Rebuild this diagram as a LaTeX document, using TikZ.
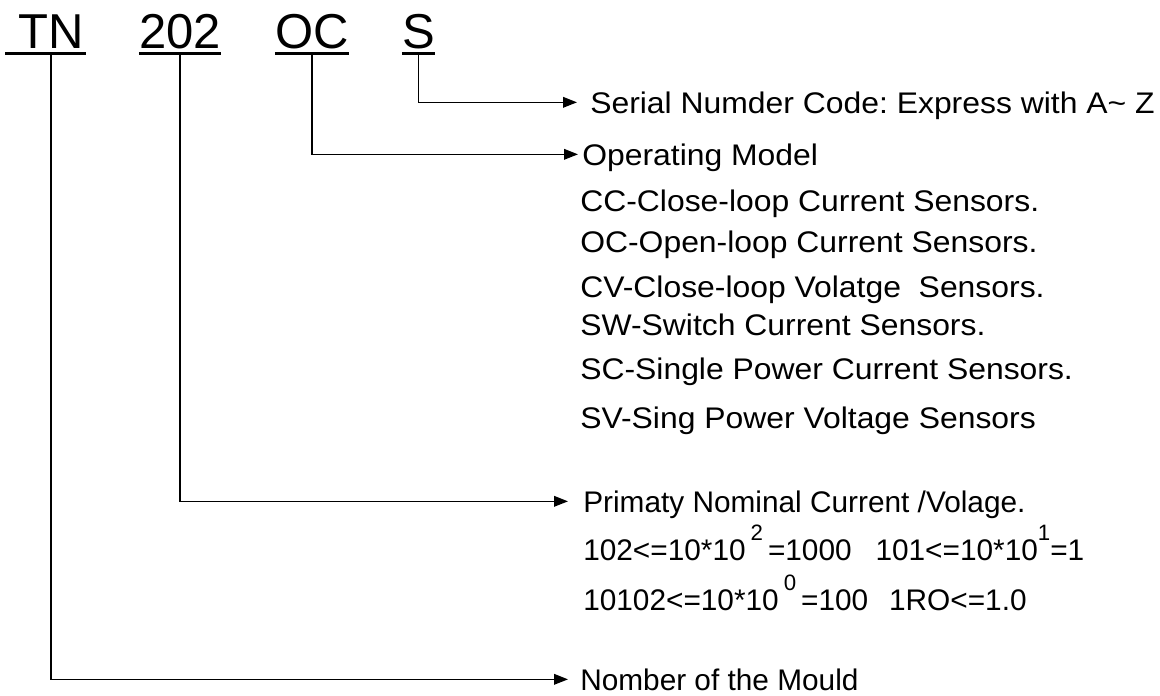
\documentclass[tikz,border=0pt]{standalone}
\usepackage{fontspec}
\setmainfont{Liberation Sans}
\newfontfamily\wideface[FakeStretch=1.07]{Liberation Sans}
\usetikzlibrary{arrows.meta}
\newcommand\powr[1]{\raisebox{14.5pt}{\fontsize{16.7pt}{17pt}\selectfont #1}}
\frenchspacing

\begin{document}
\begin{tikzpicture}[x=0.75pt, y=-0.75pt,
		code/.style={font=\fontsize{36.75pt}{40pt}\selectfont, anchor=base, inner xsep=0pt, inner ysep=3.75pt, text depth=0pt},
		desc/.style={font=\fontsize{22.35pt}{26pt}\selectfont, anchor=base west, inner xsep=0pt, inner ysep=0pt, text height=16pt, text depth=0pt},
		descup/.style={desc, font=\wideface\fontsize{22.35pt}{26pt}\selectfont},
		rule/.style={line width=2.2pt},
		link/.style={line width=1.1pt, -{Triangle[length=10.5pt, width=8pt]}}]
		\useasboundingbox (0,0) rectangle (1160,696);

		\node (tn)[code]  at (51,48)    {TN};
		\node (num)[code] at (180,48)   {202};
		\node (oc)[code]  at (312,48)   {OC};
		\node (s)[code]   at (418.5,48) {S};

		\draw[rule] ([shift={(-13,0)}]tn.south west)--([shift={(2,0)}]tn.south east);
		\draw[rule] (num.south west)--(num.south east);
		\draw[rule] (oc.south west)--(oc.south east);
		\draw[rule] (s.south west)--(s.south east);

		\node (serial)[descup, inner xsep=9.75pt] at (577,113) {Serial Numder Code: Express with A\textasciitilde{} Z};
		\node (model)[descup, inner xsep=3pt]     at (578,165) {Operating Model};
		\node (cc)[descup] at (580,211) {CC-Close-loop Current Sensors.};
		\node (ocl)[descup] at (580,252) {OC-Open-loop Current Sensors.};
		\node (cv)[descup] at (580,297) {CV-Close-loop Volatge\ \ Sensors.};
		\node (sw)[descup] at (580,335) {SW-Switch Current Sensors.};
		\node (sc)[descup] at (580,379) {SC-Single Power Current Sensors.};
		\node (sv)[descup] at (580,428) {SV-Sing Power Voltage Sensors};

		\node (primary)[desc, inner xsep=11.25pt] at (568,512) {Primaty Nominal Current /Volage.};
		\node (powa)[desc] at (583,560) {102<=10*10\,\powr{2}\,=1000\hspace{0.8em}101<=10*10\powr{1}=1};
		\node (powb)[desc] at (583,610) {10102<=10*10\,\powr{0}\,=100\hspace{0.7em}1RO<=1.0};
		\node (mould)[desc, inner xsep=9pt] at (568,690) {Nomber of the Mould};

		\draw[link] (s.south)|-(serial.west);
		\draw[link] (oc.south)|-(model.west);
		\draw[link] (num.south)|-(primary.west);
		\draw[link] (tn.south)|-(mould.west);
	\end{tikzpicture}
\end{document}
